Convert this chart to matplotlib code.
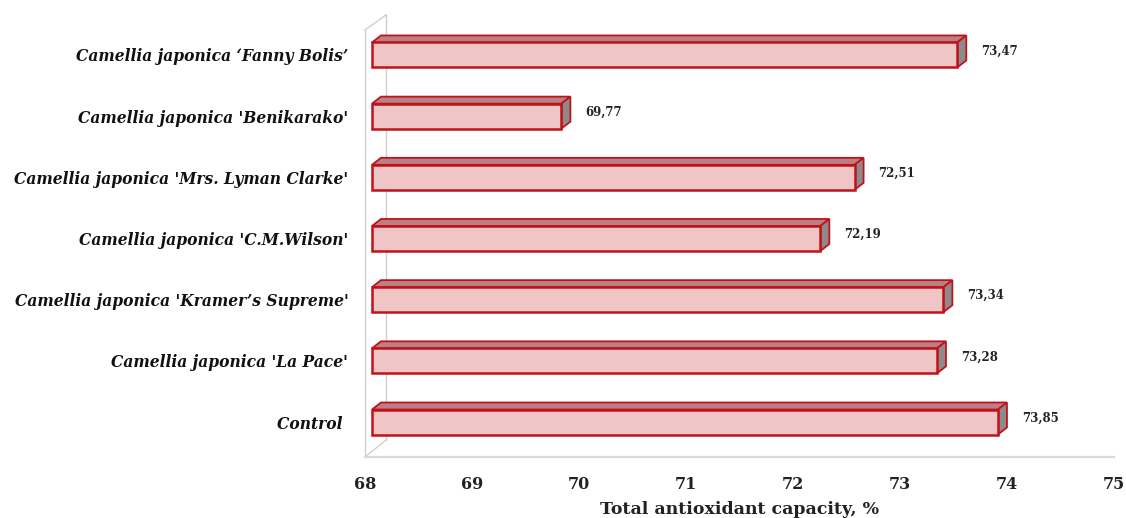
import matplotlib
matplotlib.use("Agg")
import matplotlib.pyplot as plt
from matplotlib.patches import Polygon, Rectangle

categories = [
    "Control ",
    "Camellia japonica 'La Pace'",
    "Camellia japonica 'Kramer’s Supreme'",
    "Camellia japonica 'C.M.Wilson'",
    "Camellia japonica 'Mrs. Lyman Clarke'",
    "Camellia japonica 'Benikarako'",
    "Camellia japonica ‘Fanny Bolis’",
]
values = [73.85, 73.28, 73.34, 72.19, 72.51, 69.77, 73.47]
value_labels = ["73,85", "73,28", "73,34", "72,19", "72,51", "69,77", "73,47"]
xticks = [68, 69, 70, 71, 72, 73, 74, 75]
xlabel = "Total antioxidant capacity, %"

W, H = 1126, 518
fig = plt.figure(figsize=(W / 100, H / 100), dpi=100)
ax_l, ax_r, ax_t, ax_b = 365, 1114, 10, 457
ax = fig.add_axes([ax_l / W, 1 - ax_b / H, (ax_r - ax_l) / W, (ax_b - ax_t) / H])
xmin, xmax = 68, 75
ymin, ymax = -0.572, 6.735
ax.set_xlim(xmin, xmax)
ax.set_ylim(ymin, ymax)

# pixel -> data conversions
px_x = (xmax - xmin) / (ax_r - ax_l)
px_y = (ymax - ymin) / (ax_b - ax_t)

bar_h = 25 * px_y
shift = 7 * px_x
ddx, ddy = 9 * px_x, 7 * px_y

front_c = "#f0c5c6"
top_c = "#bb8086"
side_c = "#8e8a8b"
edge_c = "#c0121a"

# wall / floor
wall_c = "#cfcfcf"
wx0 = xmin
wx1 = xmin + 21 * px_x
ytop_front = 6 + (55 - 30) * px_y
ytop_back = 6 + (55 - 15) * px_y
ax.plot([wx0, wx0], [ymin, ytop_front], color=wall_c, lw=1, clip_on=False)
ax.plot([wx1, wx1], [ymin + 17 * px_y, ytop_back], color=wall_c, lw=1, clip_on=False)
ax.plot([wx0, wx1], [ytop_front, ytop_back], color=wall_c, lw=1, clip_on=False)
ax.plot([wx0, wx1], [ymin, ymin + 17 * px_y], color=wall_c, lw=1, clip_on=False)
ax.plot([xmin, xmax], [ymin, ymin], color="#d9d9d9", lw=1.6, clip_on=False)

for i, (v, lab) in enumerate(zip(values, value_labels)):
    x0 = xmin + shift
    x1 = v + shift
    y0 = i - bar_h / 2
    y1 = i + bar_h / 2
    top = Polygon([(x0, y1), (x1, y1), (x1 + ddx, y1 + ddy), (x0 + ddx, y1 + ddy)],
                  closed=True, facecolor=top_c, edgecolor=edge_c, lw=1.3, zorder=3)
    side = Polygon([(x1, y0), (x1, y1), (x1 + ddx, y1 + ddy), (x1 + ddx, y0 + ddy)],
                   closed=True, facecolor=side_c, edgecolor=edge_c, lw=1.3, zorder=3)
    front = Rectangle((x0, y0), x1 - x0, bar_h, facecolor=front_c,
                      edgecolor=edge_c, lw=1.8, zorder=4)
    ax.add_patch(top)
    ax.add_patch(side)
    ax.add_patch(front)
    ax.text(x1 + ddx + 15 * px_x, i + 4 * px_y, lab, ha="left", va="center",
            fontsize=8.5, fontweight="bold", family="DejaVu Serif", color="#222222")

ax.set_yticks(range(len(categories)))
ax.set_yticklabels(categories, fontsize=11.2, fontweight="bold", fontstyle="italic",
                   family="DejaVu Serif", color="#111111")
ax.tick_params(axis="y", length=0, pad=12)
ax.set_xticks(xticks)
ax.set_xticklabels([str(t) for t in xticks], fontsize=11.5, fontweight="bold",
                   family="DejaVu Serif", color="#222222")
ax.tick_params(axis="x", length=0, pad=14)
for s in ax.spines.values():
    s.set_visible(False)

fig.text((ax_l + ax_r) / 2 / W, 1 - 501 / H, xlabel, ha="center", va="top",
         fontsize=12.5, fontweight="bold", family="DejaVu Serif", color="#222222")

fig.savefig("out.png", dpi=100)
